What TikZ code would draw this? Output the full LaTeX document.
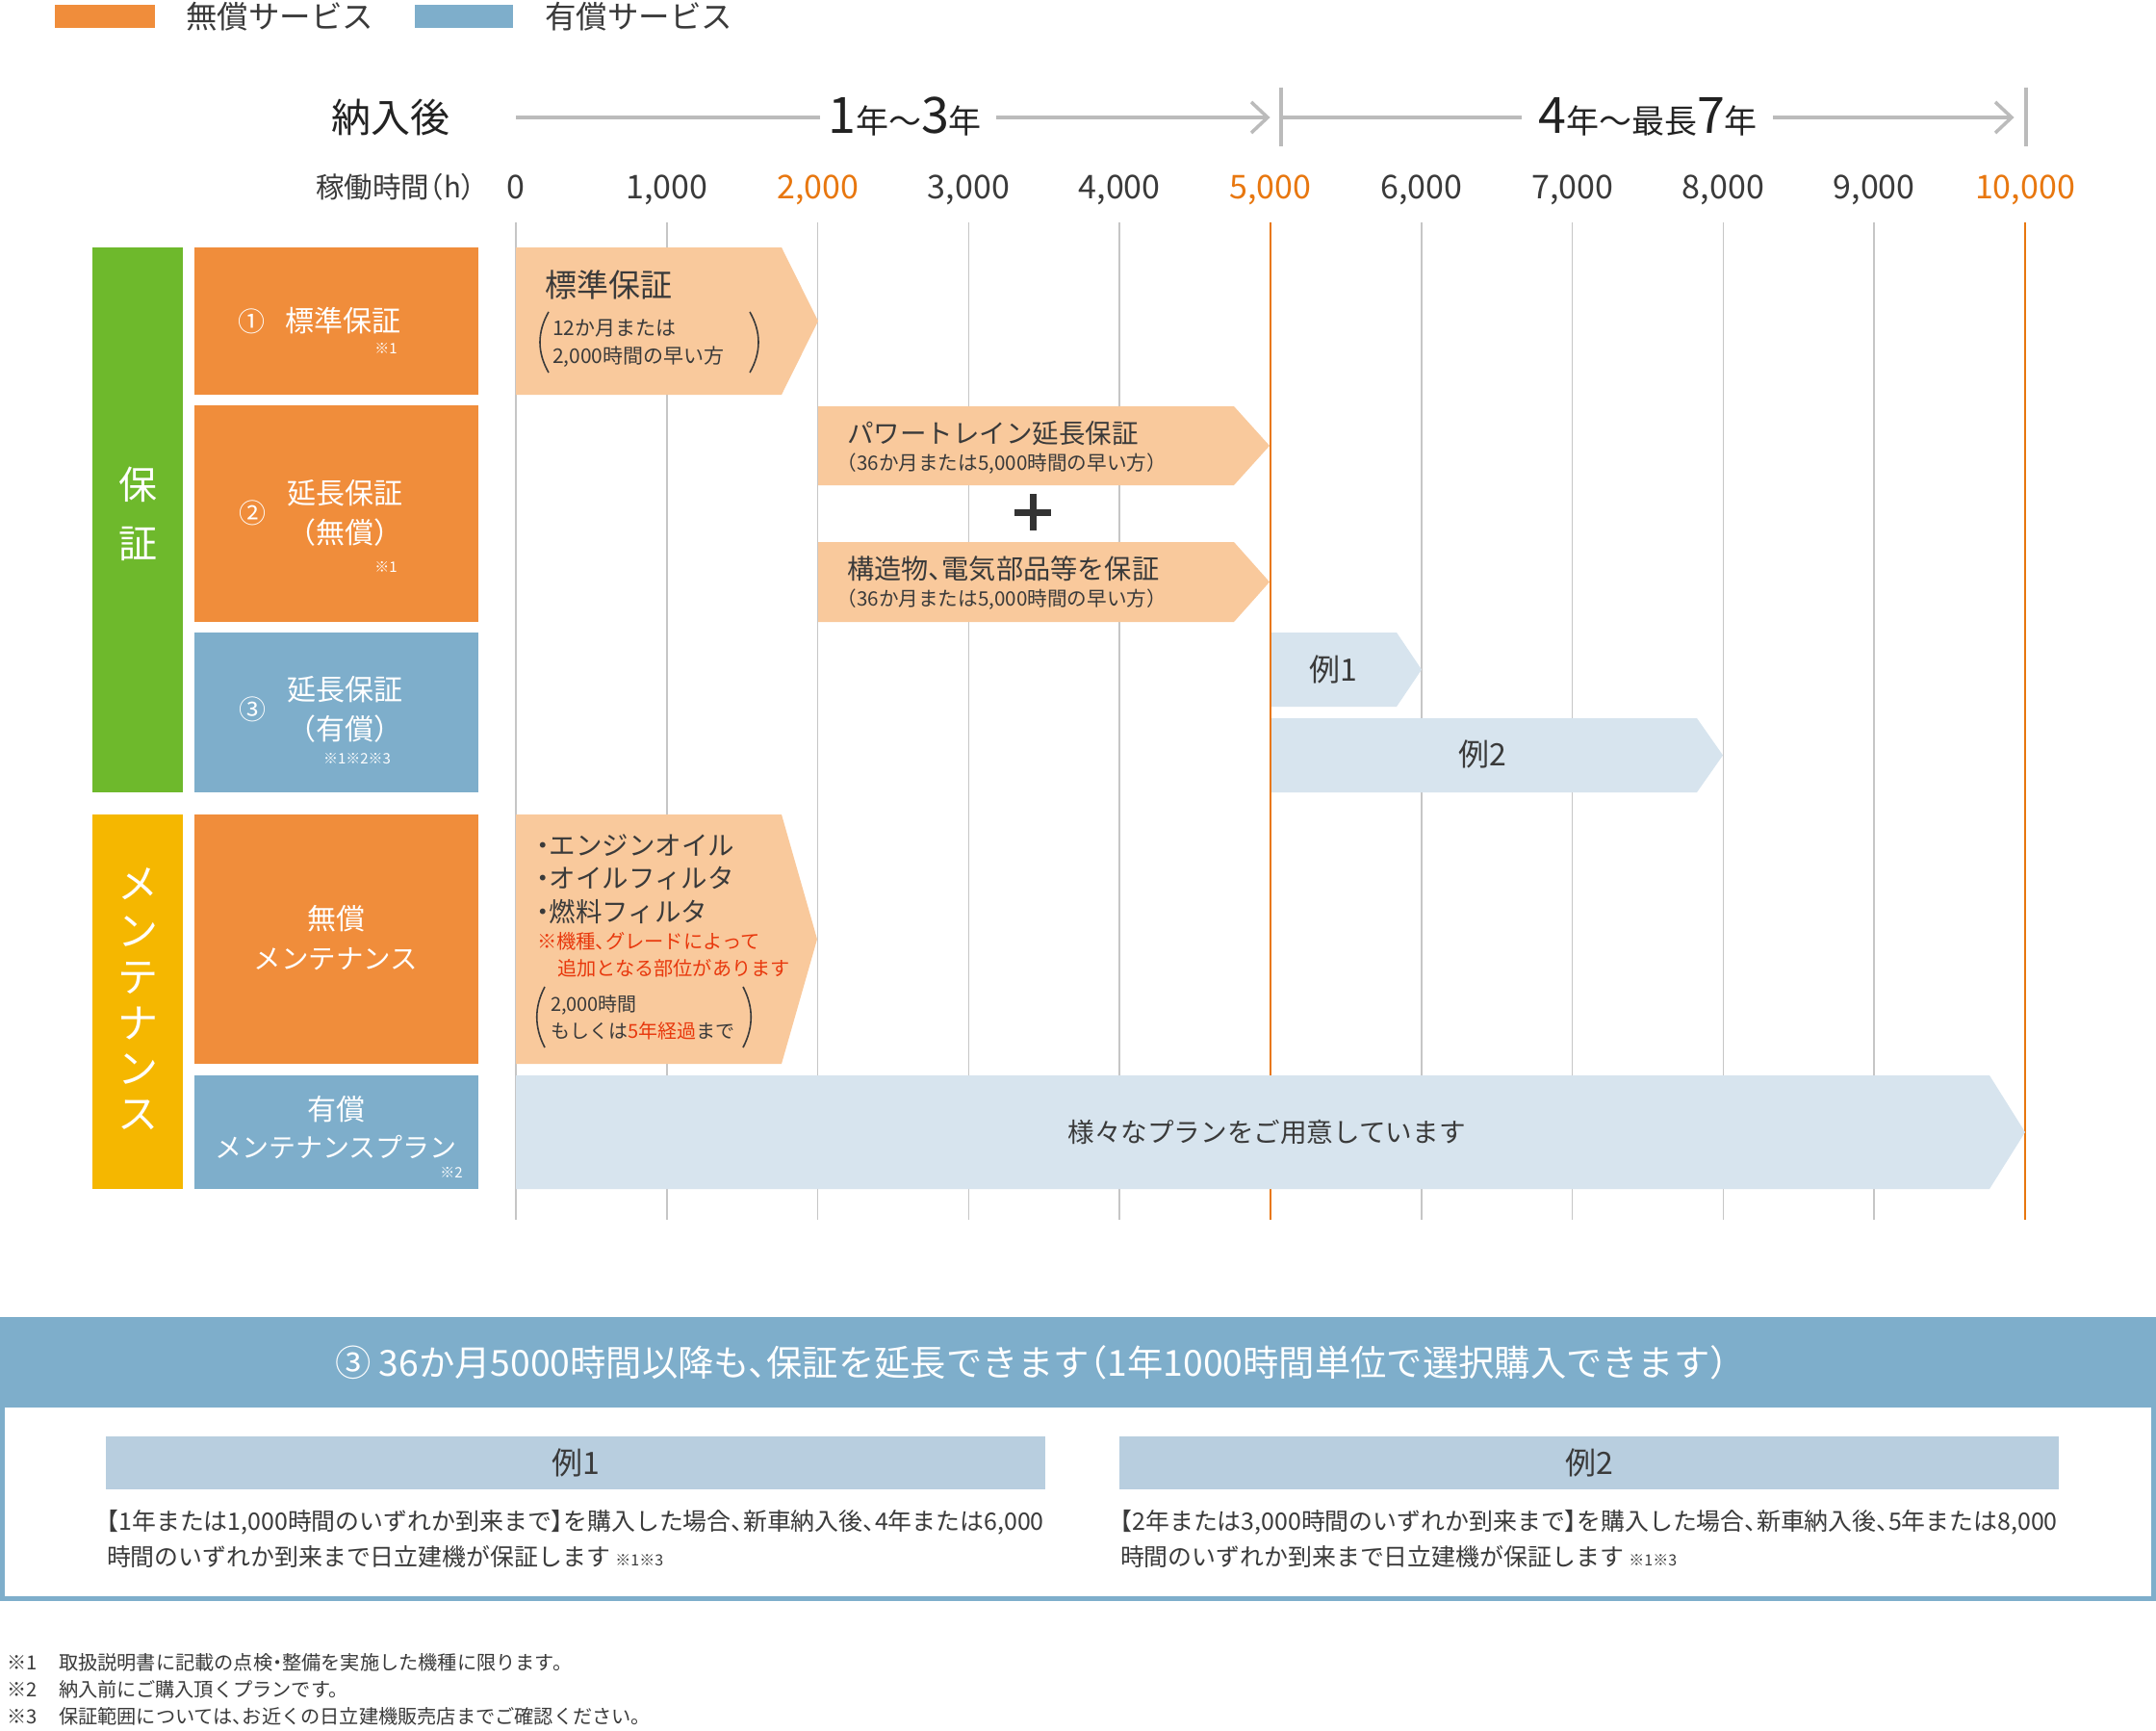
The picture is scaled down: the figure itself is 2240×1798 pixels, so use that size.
\documentclass[tikz,border=0pt]{standalone}
\usepackage{fontspec}
\setmainfont{Noto Sans CJK JP}[RawFeature=+halt]
\newcommand\fsz[1]{\fontsize{#1pt}{\dimexpr #1pt*6/5\relax}\selectfont}
\definecolor{orgbox}{HTML}{F08D3B}
\definecolor{peach}{HTML}{F9C99C}
\definecolor{paidblue}{HTML}{7EAECB}
\definecolor{lightblue}{HTML}{D7E4EE}
\definecolor{grbar}{HTML}{6EB92C}
\definecolor{ylbar}{HTML}{F5B700}
\definecolor{gridgray}{HTML}{C6C6C6}
\definecolor{orangetxt}{HTML}{E8770F}
\definecolor{redtxt}{HTML}{E8380D}
\definecolor{darktext}{HTML}{3A3A3A}
\definecolor{blacktxt}{HTML}{222222}
\definecolor{exbox}{HTML}{B8CEDF}
\definecolor{axisgray}{HTML}{BBBBBB}
\definecolor{plusc}{HTML}{333333}
\tikzset{
  fs/.style={inner sep=0pt, outer sep=0pt, font=\fsz{#1}, text height={0.88*#1}, text depth={0.12*#1}, text=darktext},
  wt/.style={text=white},
  gridln/.style={draw=gridgray, line width=1.5},
  gridor/.style={draw=orangetxt, line width=1.8},
  axisln/.style={draw=axisgray, line width=4},
  chev/.style={draw=axisgray, line width=3.5, line join=miter},
  pbrace/.style={draw=darktext, line width=1.6},
}
\newcommand\abar[6]{\fill[#1] (#2,#5) -- (#3,#5) -- (#4,{(#5+#6)/2}) -- (#3,#6) -- (#2,#6) -- cycle;}
\begin{document}
\begin{tikzpicture}[x=1pt,y=-1pt]
\useasboundingbox (0,0) rectangle (2240,1798);
\fill[white] (0,0) rectangle (2240,1798);

% legend
\fill[orgbox] (57,5) rectangle (161,29);
\node[fs=32.5,anchor=west] (lg1) at (193,17) {無償サービス};
\fill[paidblue] (431,5) rectangle (533,29);
\node[fs=32.5,anchor=west] (lg2) at (566,17) {有償サービス};

% header
\node[fs=41,text=blacktxt] (nyu) at (406,122) {納入後};
\node[fs=34,text=blacktxt,anchor=base] (span1) at (940,139) {{\fsz{52}1}年〜{\fsz{52}3}年};
\node[fs=34,text=blacktxt,anchor=base] (span2) at (1712,139) {{\fsz{52}4}年〜最長{\fsz{52}7}年};
\coordinate (a0) at (536,122);
\coordinate (a1) at (852,122);
\coordinate (a2) at (1035,122);
\coordinate (a3) at (1317,122);
\coordinate (b0) at (1331,122);
\coordinate (b1) at (1581,122);
\coordinate (b2) at (1842,122);
\coordinate (b3) at (2090,122);
\draw[axisln] (a0) -- (a1);
\draw[axisln] (a2) -- (a3);
\draw[chev] ([xshift=-17,yshift=-16]a3) -- (a3) -- ([xshift=-17,yshift=16]a3);
\draw[axisln] (1331,91) -- (1331,152);
\draw[axisln] (b0) -- (b1);
\draw[axisln] (b2) -- (b3);
\draw[chev] ([xshift=-17,yshift=-16]b3) -- (b3) -- ([xshift=-17,yshift=16]b3);
\draw[axisln] (2105,91) -- (2105,152);

\node[fs=29.5] (kado) at (411,194) {稼働時間（h）};
\foreach \i/\lab/\c in {0/0/darktext,1/{1,000}/darktext,2/{2,000}/orangetxt,3/{3,000}/darktext,4/{4,000}/darktext,5/{5,000}/orangetxt,6/{6,000}/darktext,7/{7,000}/darktext,8/{8,000}/darktext,9/{9,000}/darktext,10/{10,000}/orangetxt}{
  \node[fs=34,text=\c] (tick\i) at ({536+156.8*\i},194) {\lab};
}

% grid
\foreach \i in {0,1,2,3,4,6,7,8,9}{
  \draw[gridln] ({536+156.8*\i},231) -- ({536+156.8*\i},1267);
}
\draw[gridor] (1320,231) -- (1320,1267);
\draw[gridor] (2104,231) -- (2104,1267);

% left column
\fill[grbar] (96,257) rectangle (190,823);
\node[fs=40,wt] (ho) at (143,503) {保};
\node[fs=40,wt] (sho) at (143,564) {証};

\fill[orgbox] (202,257) rectangle (497,410);
\node[fs=28,wt] (c1) at (261,334) {①};
\node[fs=30,wt,anchor=west] (b1) at (296,333) {標準保証};
\node[fs=15,wt] (b1n) at (401,362) {※1};

\fill[orgbox] (202,421) rectangle (497,646);
\node[fs=28,wt] (c2) at (262,533) {②};
\node[fs=30,wt] (b2a) at (358,512) {延長保証};
\node[fs=30,wt] (b2b) at (358,553) {（無償）};
\node[fs=15,wt] (b2n) at (401,589) {※1};

\fill[paidblue] (202,657) rectangle (497,823);
\node[fs=28,wt] (c3) at (262,737) {③};
\node[fs=30,wt] (b3a) at (358,716) {延長保証};
\node[fs=30,wt] (b3b) at (358,757) {（有償）};
\node[fs=15,wt] (b3n) at (371,788) {※1※2※3};

\fill[ylbar] (96,846) rectangle (190,1235);
\foreach \ch/\yy [count=\k] in {メ/918,ン/967,テ/1015,ナ/1063,ン/1110,ス/1157}{
  \node[fs=42,wt] (mt\k) at (143,\yy) {\ch};
}
\fill[orgbox] (202,846) rectangle (497,1105);
\node[fs=30,wt] (m1a) at (349,954) {無償};
\node[fs=28.5,wt] (m1b) at (349,996) {メンテナンス};
\fill[paidblue] (202,1117) rectangle (497,1235);
\node[fs=30,wt] (m2a) at (349,1152) {有償};
\node[fs=28,wt] (m2b) at (349,1192) {メンテナンスプラン};
\node[fs=15,wt] (m2n) at (469,1218) {※2};

% bars
\abar{peach}{536}{812}{850}{257}{410}
\node[fs=33,anchor=west] (std) at (566,296) {標準保証};
\node[fs=21,anchor=west] (std1) at (574,341) {12か月または};
\node[fs=21,anchor=west] (std2) at (574,370) {2,000時間の早い方};
\draw[pbrace] (570,324) .. controls (558,345) and (558,366) .. (570,387);
\draw[pbrace] (779,324) .. controls (791,345) and (791,366) .. (779,387);

\abar{peach}{850}{1282}{1319}{422}{504}
\node[fs=27.5,anchor=west] (pt) at (880,450) {パワートレイン延長保証};
\node[fs=20.6,anchor=west] (pt2) at (880,481) {（36か月または5,000時間の早い方）};
\draw[draw=plusc,line width=7] (1054,532) -- (1092,532);
\draw[draw=plusc,line width=7] (1073,513) -- (1073,551);
\abar{peach}{850}{1282}{1319}{563}{646}
\node[fs=28.2,anchor=west] (kz) at (880,591) {構造物、電気部品等を保証};
\node[fs=20.6,anchor=west] (kz2) at (880,622) {（36か月または5,000時間の早い方）};

\abar{lightblue}{1321}{1451}{1477}{657}{734}
\node[fs=32] (ex1) at (1385,695) {例1};
\abar{lightblue}{1321}{1763}{1790}{746}{823}
\node[fs=32] (ex2) at (1540,783) {例2};

\abar{peach}{536}{812}{849}{846}{1105}
\node[fs=27.5,anchor=west] (mi1) at (557,878) {・エンジンオイル};
\node[fs=27.5,anchor=west] (mi2) at (557,912) {・オイルフィルタ};
\node[fs=27.5,anchor=west] (mi3) at (557,947) {・燃料フィルタ};
\node[fs=20.3,anchor=west,text=redtxt] (mr1) at (558,978) {※機種、グレードによって};
\node[fs=20.2,anchor=west,text=redtxt] (mr2) at (579,1006) {追加となる部位があります};
\node[fs=20,anchor=west] (mp1) at (572,1043) {2,000時間};
\node[fs=20,anchor=west] (mp2) at (572,1071) {もしくは\textcolor{redtxt}{5年経過}まで};
\draw[pbrace] (566,1025) .. controls (555,1046) and (555,1067) .. (566,1088);
\draw[pbrace] (772,1025) .. controls (783,1046) and (783,1067) .. (772,1088);

\abar{lightblue}{536}{2067}{2104}{1117}{1235}
\node[fs=27.6] (plan) at (1316,1176) {様々なプランをご用意しています};

% bottom section
\fill[paidblue] (0,1368) rectangle (2240,1462);
\draw[draw=paidblue,line width=5] (2.5,1462) -- (2.5,1660.5) -- (2237.5,1660.5) -- (2237.5,1462);
\node[fs=37.3,wt,anchor=west] (title) at (348,1415) {③ 36か月5000時間以降も、保証を延長できます（1年1000時間単位で選択購入できます）};

\fill[exbox] (110,1492) rectangle (1086,1547);
\node[fs=32] (e1h) at (598,1519) {例1};
\node[fs=24.9,anchor=west] (e1l1) at (111,1580) {【1年または1,000時間のいずれか到来まで】を購入した場合、新車納入後、4年または6,000};
\node[fs=24.9,anchor=west] (e1l2) at (111,1617) {時間のいずれか到来まで日立建機が保証します {\fsz{16}※1※3}};

\fill[exbox] (1163,1492) rectangle (2139,1547);
\node[fs=32] (e2h) at (1651,1519) {例2};
\node[fs=24.9,anchor=west] (e2l1) at (1164,1580) {【2年または3,000時間のいずれか到来まで】を購入した場合、新車納入後、5年または8,000};
\node[fs=24.9,anchor=west] (e2l2) at (1164,1617) {時間のいずれか到来まで日立建機が保証します {\fsz{16}※1※3}};

% footnotes
\node[fs=20.2,anchor=west] (f1a) at (7,1727) {※1};
\node[fs=20.2,anchor=west] (f1b) at (61,1727) {取扱説明書に記載の点検・整備を実施した機種に限ります。};
\node[fs=20.2,anchor=west] (f2a) at (7,1755) {※2};
\node[fs=20.2,anchor=west] (f2b) at (61,1755) {納入前にご購入頂くプランです。};
\node[fs=20.2,anchor=west] (f3a) at (7,1783) {※3};
\node[fs=20.2,anchor=west] (f3b) at (61,1783) {保証範囲については、お近くの日立建機販売店までご確認ください。};
\end{tikzpicture}
\end{document}
